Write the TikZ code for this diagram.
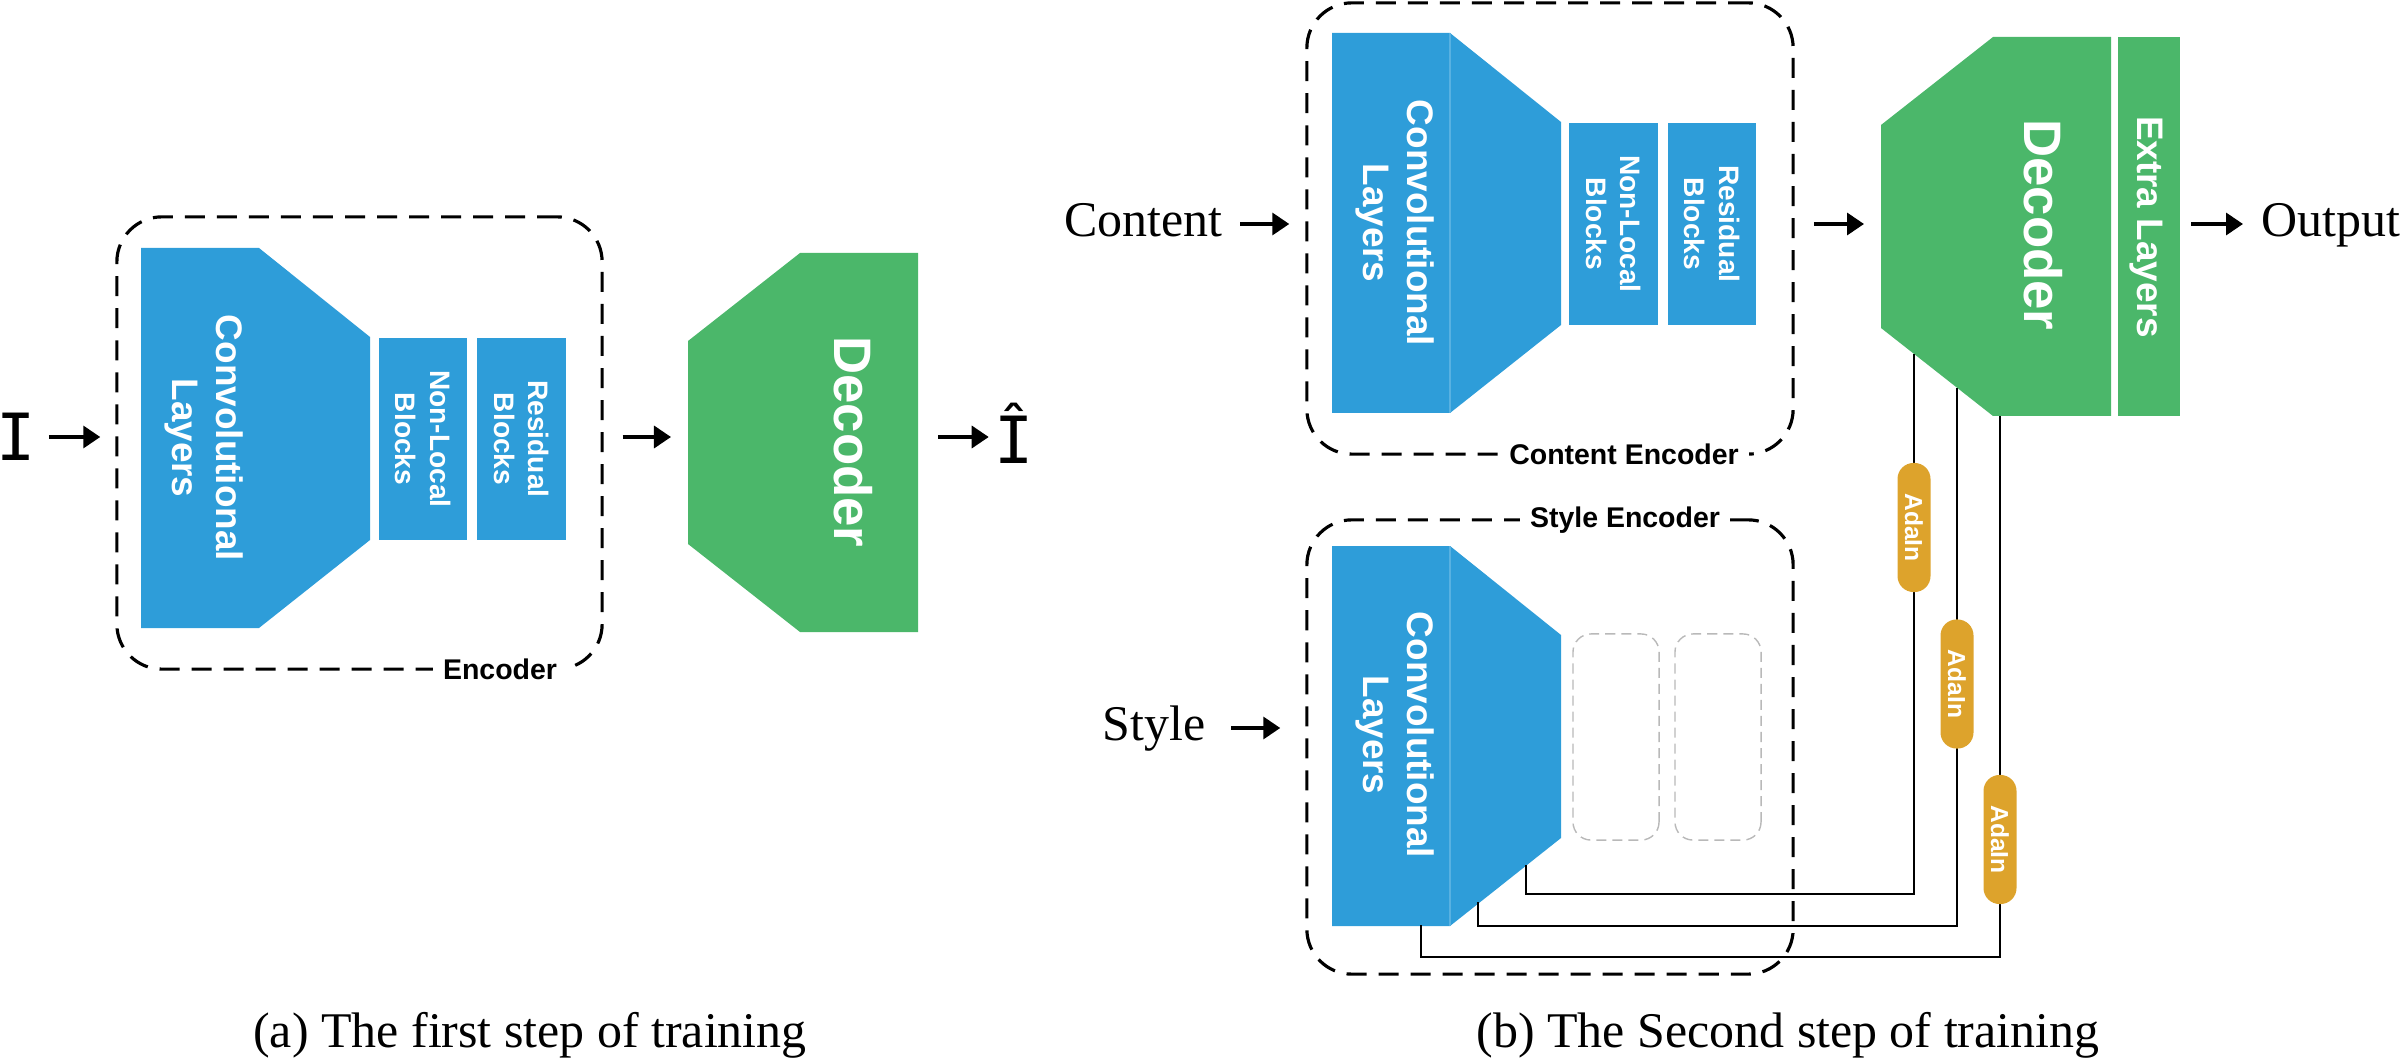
\documentclass[tikz,border=0pt]{standalone}
\usepackage{fontspec}
\setmainfont{Liberation Serif}
\setsansfont{Liberation Sans}
\newfontfamily\monofont{DejaVu Sans Mono}
\usetikzlibrary{arrows.meta,calc}
\definecolor{convblue}{RGB}{46,157,217}
\definecolor{decgreen}{RGB}{75,183,106}
\definecolor{adagold}{RGB}{221,163,44}
\def\convshape(#1,#2){\fill[convblue] (#1,#2) -- ++(118,0) -- ++(111,89) -- ++(0,203) -- ++(-111,88) -- ++(-118,0) -- cycle;}
\def\decshape(#1,#2){\fill[decgreen] (#1,#2) -- ++(118,0) -- ++(0,379) -- ++(-118,0) -- ++(-112,-88) -- ++(0,-203) -- cycle;}
\tikzset{
	serif/.style={font=\fontsize{14.2}{17}\selectfont, inner sep=0pt},
	mono/.style={font=\monofont\fontsize{18.5}{20}\selectfont, inner sep=0pt},
	flow/.style={line width=1pt, -{Triangle[length=0.17cm, width=0.22cm]}},
	encbox/.style={draw, line width=0.9pt, dash pattern=on 0.2cm off 0.12cm, rounded corners=0.45cm, inner sep=0pt},
	boxlabel/.style={fill=white, font=\sffamily\bfseries\fontsize{8.1}{9}\selectfont, inner xsep=0.1cm, inner ysep=0.03cm},
	blk/.style={fill=convblue, rotate=-90, minimum width=2.02cm, minimum height=0.88cm, inner sep=0pt, text=white, align=center, font=\sffamily\bfseries\fontsize{8}{9.7}\selectfont},
	ghost/.style={draw=gray!55, line width=0.4pt, dash pattern=on 0.1cm off 0.06cm, rounded corners=0.18cm, rotate=-90, minimum width=2.06cm, minimum height=0.86cm},
	bigtext/.style={rotate=-90, text=white, align=center, inner sep=0pt, font=\sffamily\bfseries\fontsize{10.5}{12.5}\selectfont},
	dectext/.style={rotate=-90, text=white, inner sep=0pt, font=\sffamily\bfseries\fontsize{15}{18}\selectfont},
	divider/.style={color=convblue!80!white, line width=0.4pt},
	wire/.style={line width=0.5pt},
	pill/.style={fill=adagold, rotate=-90, rounded corners=0.16cm, minimum width=1.29cm, minimum height=0.33cm, inner sep=0pt, text=white, font=\sffamily\bfseries\fontsize{7}{8}\selectfont},
}

\begin{document}
\begin{tikzpicture}[x=0.01cm, y=-0.01cm]
			%%%%% START %%%%%
			
			\useasboundingbox (0,0) rectangle (2400,1064);
			\coordinate (lineA) at (0,437);
			\coordinate (lineC) at (0,224);
			\coordinate (lineS) at (0,728);
			
			% first step
			\node[encbox, minimum width=4.85cm, minimum height=4.52cm] (encA) at (359.5,443) {};
			\node[boxlabel] (encAlab) at (500,669) {Encoder};
			
			\convshape(141,248)
			\node[bigtext] (convA) at (204,438) {Convolutional\\Layers};
			\node[blk] (nlA) at (423,439) {Non-Local\\Blocks};
			\node[blk] (resA) at (521.5,439) {Residual\\Blocks};
			
			\decshape(800,253)
			\node[dectext] (decA) at (853,442) {Decoder};
			\coordinate (decAin) at (688,437);
			\coordinate (decAout) at (918,437);
			
			\node[mono, anchor=base] (I) at (16.5,461) {I};
			\node[mono, anchor=base] (Ihat) at (1014,464) {Î};
			
			\draw[flow, shorten <=0.12cm, shorten >=0.15cm] (I.east |- lineA) -- (encA.west |- lineA);
			\draw[flow, shorten <=0.19cm, shorten >=0.17cm] (encA.east |- lineA) -- (decAin);
			\draw[flow, shorten <=0.2cm, shorten >=0.05cm] (decAout) -- (Ihat.west |- lineA);
			
			\node[serif, anchor=base] (capA) at (530,1047) {(a) The first step of training};
			
			% second step, content
			\node[encbox, minimum width=4.86cm, minimum height=4.51cm] (encC) at (1550,228.5) {};
			\node[boxlabel] (encClab) at (1624,454) {Content Encoder};
			
			\convshape(1332,33)
			\draw[divider] (1450,33) -- ++(0,380);
			\node[bigtext] (convC) at (1395,223) {Convolutional\\Layers};
			\node[blk] (nlC) at (1613.5,224) {Non-Local\\Blocks};
			\node[blk] (resC) at (1712,224) {Residual\\Blocks};
			
			% second step, style
			\node[encbox, minimum width=4.86cm, minimum height=4.54cm] (encS) at (1550,747) {};
			\node[boxlabel] (encSlab) at (1625,520) {Style Encoder};
			
			\convshape(1332,546)
			\draw[divider] (1450,546) -- ++(0,380);
			\node[bigtext] (convS) at (1395,735) {Convolutional\\Layers};
			\node[ghost] (ghostS1) at (1616,737) {};
			\node[ghost] (ghostS2) at (1718,737) {};
			
			% decoder
			\decshape(1993,37)
			\node[dectext] (decB) at (2043,225) {Decoder};
			\fill[decgreen] (2118,37) rectangle (2180,416);
			\node[bigtext] (extra) at (2146,227) {Extra Layers};
			\coordinate (decBin) at (1881,224);
			\coordinate (decBout) at (2180,224);
			
			\node[serif, anchor=base east] (content) at (1223,237) {Content};
			\node[serif, anchor=base east] (style) at (1206,740) {Style};
			\node[serif, anchor=base west] (output) at (2261,237) {Output};
			
			\draw[flow, shorten <=0.17cm, shorten >=0.16cm] (content.east |- lineC) -- (encC.west |- lineC);
			\draw[flow, shorten <=0.25cm, shorten >=0.25cm] (style.east |- lineS) -- (encS.west |- lineS);
			\draw[flow, shorten <=0.19cm, shorten >=0.17cm] (encC.east |- lineC) -- (decBin);
			\draw[flow, shorten <=0.11cm, shorten >=0.18cm] (decBout) -- (output.west |- lineC);
			
			% adain wires
			\coordinate (dec1) at (1914,354);
			\coordinate (dec2) at (1957,388);
			\coordinate (dec3) at (2000,416);
			\coordinate (sty1) at (1526,865);
			\coordinate (sty2) at (1478,902);
			\coordinate (sty3) at (1421,925);
			
			\draw[wire] (sty1) -- ++(0,29) -| (dec1);
			\draw[wire] (sty2) -- ++(0,24) -| (dec2);
			\draw[wire] (sty3) -- ++(0,32) -| (dec3);
			
			\node[pill] (ada1) at (1914,527.5) {AdaIn};
			\node[pill] (ada2) at (1957,684) {AdaIn};
			\node[pill] (ada3) at (2000,839.5) {AdaIn};
			
			\node[serif, anchor=base] (capB) at (1788,1047) {(b) The Second step of training};
			
			%%%%% END %%%%%
\end{tikzpicture}
\end{document}
